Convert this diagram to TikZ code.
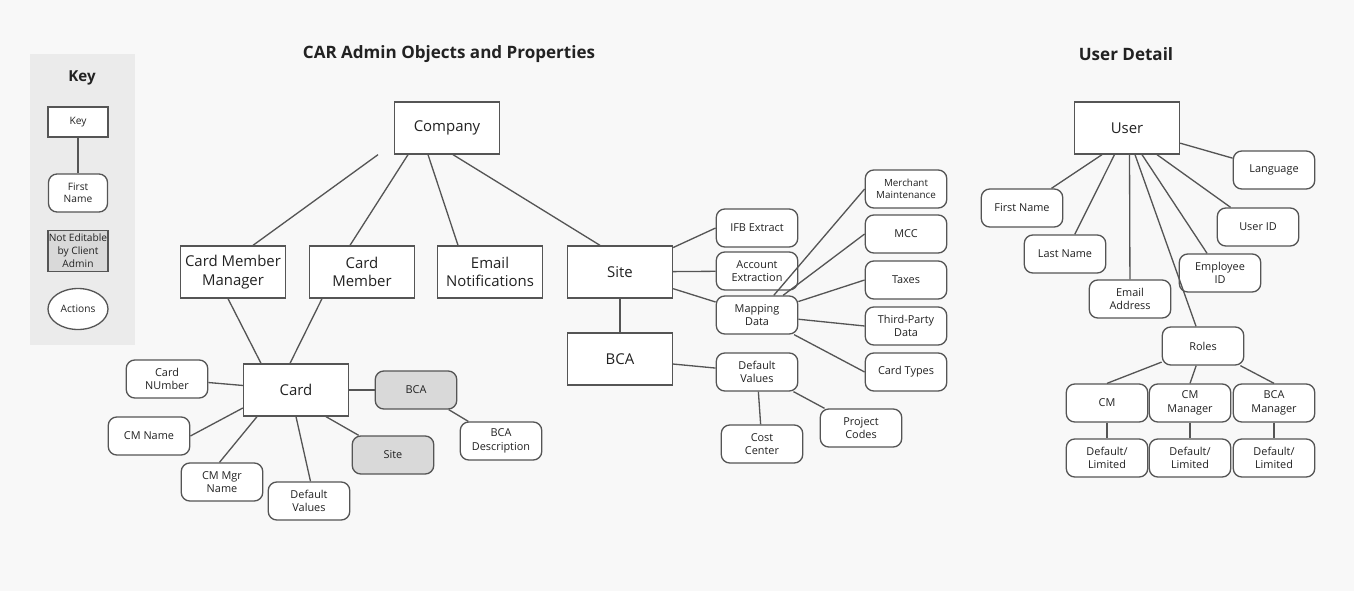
\documentclass[tikz,border=0pt]{standalone}
\usepackage{fontspec}
\setmainfont{Open Sans}
\usetikzlibrary{shapes.geometric}
\definecolor{bg}{HTML}{F8F8F8}
\definecolor{panel}{HTML}{EBEBEB}
\definecolor{ln}{HTML}{555555}
\definecolor{tx}{HTML}{222222}
\definecolor{gr}{HTML}{D9D9D9}
\begin{document}
\begin{tikzpicture}[x=0.02cm,y=-0.02cm,
  every node/.style={text=tx,align=center,inner sep=0pt},
  every path/.style={draw=ln,line width=0.75pt},
  big/.style={draw=ln,fill=white,rectangle,minimum width=2.1cm,minimum height=1.04cm,font=\fontsize{8.5}{10.5}\selectfont},
  sm/.style={draw=ln,fill=white,rounded corners=0.17cm,minimum width=1.63cm,minimum height=0.76cm,font=\fontsize{6.2}{7.6}\selectfont},
  ng/.style={sm,fill=gr},
  ttl/.style={font=\bfseries\fontsize{9.7}{11}\selectfont}]
\path[fill=bg,draw=none] (0,0) rectangle (1354,591);
\path[fill=panel,draw=none] (30,54) rectangle (135,345);
\node[ttl,font=\bfseries\fontsize{8.6}{10}\selectfont] (keyt) at (82,78) {Key};
\node[ttl] (t1) at (449,54) {CAR Admin Objects and Properties};
\node[ttl] (t2) at (1126,54) {User Detail};
% key
\node[draw=ln,fill=white,minimum width=1.2cm,minimum height=0.6cm,font=\fontsize{5.8}{7}\selectfont] (k1) at (78,122) {Key};
\node[sm,minimum width=1.18cm,font=\fontsize{5.8}{7}\selectfont] (k2) at (78,193) {First\\Name};
\node[draw=ln,fill=gr,minimum width=1.2cm,minimum height=0.82cm,font=\fontsize{5.8}{7.5}\selectfont] (k3) at (78,251) {Not Editable\\by Client\\Admin};
\node[draw=ln,fill=white,ellipse,minimum width=1.2cm,minimum height=0.82cm,font=\fontsize{5.8}{7}\selectfont] (k4) at (78,309) {Actions};
\draw (k1) -- (k2);
% main
\node[big] (company) at (447,128) {Company};
\node[big] (cmm) at (233,272) {Card Member\\Manager};
\node[big] (cm) at (362,272) {Card\\Member};
\node[big] (email) at (490,272) {Email\\Notifications};
\node[big] (site) at (620,272) {Site};
\node[big] (bca) at (620,359) {BCA};
\node[big] (card) at (296,390) {Card};
\node[sm] (cnum) at (167,379) {Card\\NUmber};
\node[sm] (cmname) at (149,436) {CM Name};
\node[sm] (cmmgr) at (222,482) {CM Mgr\\Name};
\node[sm] (dv1) at (309,501) {Default\\Values};
\node[ng] (gsite) at (393,455) {Site};
\node[ng] (gbca) at (416,390) {BCA};
\node[sm] (bcad) at (501,441) {BCA\\Description};
\node[sm] (ifb) at (757,228) {IFB Extract};
\node[sm] (acc) at (757,271) {Account\\Extraction};
\node[sm] (map) at (757,315) {Mapping\\Data};
\node[sm] (dv2) at (757,372) {Default\\Values};
\node[sm] (cost) at (762,444) {Cost\\Center};
\node[sm] (proj) at (861,428) {Project\\Codes};
\node[sm,font=\fontsize{5.6}{7}\selectfont] (merch) at (906,189) {Merchant\\Maintenance};
\node[sm] (mcc) at (906,234) {MCC};
\node[sm] (tax) at (906,280) {Taxes};
\node[sm] (tpd) at (906,326) {Third-Party\\Data};
\node[sm] (ctype) at (906,372) {Card Types};
\draw ([xshift=-1.38cm]company.south) -- ([xshift=0.4cm]cmm.north);
\draw ([xshift=-0.78cm]company.south) -- ([xshift=-0.24cm]cm.north);
\draw ([xshift=-0.38cm]company.south) -- ([xshift=-0.64cm]email.north);
\draw ([xshift=0.12cm]company.south) -- ([xshift=-0.4cm]site.north);
\draw ([xshift=-0.1cm]cmm.south) -- ([xshift=-0.7cm]card.north);
\draw ([xshift=-0.8cm]cm.south) -- ([xshift=-0.12cm]card.north);
\draw (card) -- (cnum);
\draw ([yshift=-0.36cm]card.west) -- (cmname.east);
\draw ([xshift=-0.78cm]card.south) -- ([xshift=-0.05cm]cmmgr.north);
\draw (card.south) -- ([xshift=0.03cm]dv1.north);
\draw ([xshift=0.6cm]card.south) -- (gsite);
\draw (card) -- (gbca);
\draw (gbca) -- (bcad);
\draw (site) -- (bca);
\draw (site) -- (ifb.west);
\draw (site) -- (acc);
\draw (site) -- (map);
\foreach \n in {merch,mcc,tax,tpd,ctype} \draw (map) -- (\n.west);
\draw (bca) -- (dv2);
\draw (dv2) -- (cost);
\draw (dv2) -- (proj);
% user
\node[big] (user) at (1127,128) {User};
\node[sm] (fn) at (1022,208) {First Name};
\node[sm] (lnm) at (1065,254) {Last Name};
\node[sm] (ea) at (1130,299) {Email\\Address};
\node[sm] (eid) at (1220,273) {Employee\\ID};
\node[sm] (uid) at (1258,227) {User ID};
\node[sm] (lang) at (1274,170) {Language};
\node[sm] (roles) at (1203,346) {Roles};
\node[sm] (rcm) at (1107,403) {CM};
\node[sm] (rcmm) at (1190,403) {CM\\Manager};
\node[sm] (rbca) at (1274,403) {BCA\\Manager};
\node[sm] (d1) at (1107,458) {Default/\\Limited};
\node[sm] (d2) at (1190,458) {Default/\\Limited};
\node[sm] (d3) at (1274,458) {Default/\\Limited};
\draw ([xshift=-0.5cm]user.south) -- (fn);
\draw ([xshift=-0.25cm]user.south) -- (lnm);
\draw ([xshift=0.05cm]user.south) -- (ea);
\draw ([xshift=0.16cm]user.south) -- (roles);
\draw ([xshift=0.3cm]user.south) -- (eid);
\draw ([xshift=0.6cm]user.south) -- (uid);
\draw (user) -- (lang);
\draw (roles) -- (rcm.north);
\draw (roles) -- (rcmm.north);
\draw (roles) -- (rbca.north);
\draw (rcm) -- (d1);
\draw (rcmm) -- (d2);
\draw (rbca) -- (d3);
\end{tikzpicture}
\end{document}
